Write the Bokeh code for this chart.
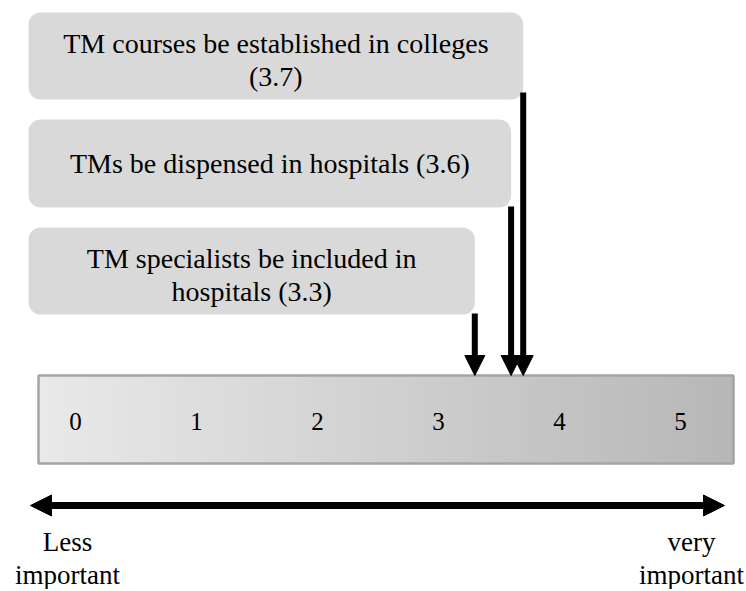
import textwrap
import numpy as np
from bokeh.plotting import figure
from bokeh.models import Range1d, BoxAnnotation, Arrow, NormalHead, ColumnDataSource
from bokeh.core.properties import value
from bokeh.embed import file_html
from bokeh.resources import INLINE

# ---------------- data ----------------
statements = [
    "TM courses be established in colleges",
    "TMs be dispensed in hospitals",
    "TM specialists be included in hospitals",
]
scores = [3.7, 3.6, 3.3]
wrap_widths = [37, 40, 30]
scale_ticks = [0, 1, 2, 3, 4, 5]
end_labels = ["Less\nimportant", "very\nimportant"]

# ---------------- layout (page pixels) ----------------
W, H = 744, 589
FONT = "Liberation Serif"
box_top = [12, 119, 227]
box_bottom = [99, 207, 314]
arrow_top = [92, 206, 313]
BAR_L, BAR_R, BAR_T, BAR_B = 38, 733, 375, 463
NUM_Y = 421
AXIS_Y, AXIS_L, AXIS_R = 505, 30, 724
END_X = [67, 691]
END_Y = 558
VALUE_START, VALUE_END = -0.620, 5.529   # value range across the figure width
BOX_LEFT = -0.388                        # left edge of callout boxes, value units

p = figure(width=W, height=H, output_backend="svg", toolbar_location=None,
           x_axis_type=None, y_axis_type=None,
           x_range=Range1d(VALUE_START, VALUE_END),
           y_range=Range1d(H, 0), min_border=0)
p.extra_x_ranges = {"px": Range1d(0, W)}
p.grid.visible = False
p.outline_line_color = None
p.background_fill_color = "white"
p.border_fill_color = "white"

# ---- gradient scale bar ----
n = 139
edges = np.linspace(BAR_L, BAR_R, n + 1)
shade = np.linspace(0xe9, 0xb7, n).round().astype(int)
cols = ["#%02x%02x%02x" % (s, s, s) for s in shade]
p.quad(left=edges[:-1], right=edges[1:], top=BAR_T, bottom=BAR_B,
       fill_color=cols, line_color=cols, line_width=1, x_range_name="px")
p.quad(left=[BAR_L], right=[BAR_R], top=[BAR_T], bottom=[BAR_B],
       fill_color=None, line_color="#a4a4a4", line_width=2.5, x_range_name="px")

p.text(x=scale_ticks, y=[NUM_Y] * len(scale_ticks), text=[str(t) for t in scale_ticks],
       text_font=value(FONT), text_font_size="25px", text_color="black",
       text_align="center", text_baseline="middle")

# ---- callout boxes ----
labels = [textwrap.fill(f"{s} ({v})", w) for s, v, w in zip(statements, scores, wrap_widths)]
for v, t, b in zip(scores, box_top, box_bottom):
    p.add_layout(BoxAnnotation(left=BOX_LEFT, right=v, top=t, bottom=b, level="underlay",
                               fill_color="#d9d9d9", fill_alpha=1.0,
                               line_color=None, line_alpha=0, border_radius=12))

src = ColumnDataSource(dict(
    x=[(BOX_LEFT + v) / 2 for v in scores],
    y=[(t + b) / 2 + (4 if "\n" in lab else 0)
       for t, b, lab in zip(box_top, box_bottom, labels)],
    text=labels,
))
p.text(x="x", y="y", text="text", source=src,
       text_font=value(FONT), text_font_size="28px", text_color="black",
       text_align="center", text_baseline="middle", text_line_height=1.08)

# ---- pointer arrows ----
for v, yt in zip(scores, arrow_top):
    p.add_layout(Arrow(x_start=v, x_end=v, y_start=yt, y_end=BAR_T,
                       line_width=6, line_color="black",
                       end=NormalHead(size=20, fill_color="black", line_color="black")))

# ---- importance axis ----
p.add_layout(Arrow(x_start=AXIS_L, x_end=AXIS_R, y_start=AXIS_Y, y_end=AXIS_Y,
                   x_range_name="px", line_width=7, line_color="black",
                   start=NormalHead(size=21, fill_color="black", line_color="black"),
                   end=NormalHead(size=21, fill_color="black", line_color="black")))
p.text(x=END_X, y=[END_Y] * 2, text=end_labels, x_range_name="px",
       text_font=value(FONT), text_font_size="27px", text_color="black",
       text_align="center", text_baseline="middle", text_line_height=1.07)

open("out.html", "w").write(file_html(p, INLINE))
